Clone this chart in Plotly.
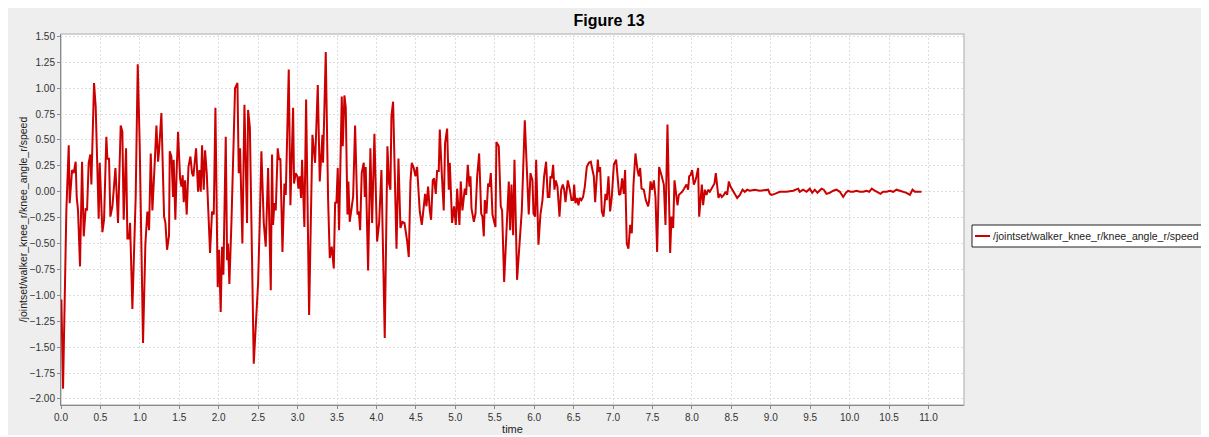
import plotly.graph_objects as go

# ---- data ----
time = [
    0.005, 0.026, 0.068, 0.098, 0.110, 0.140, 0.161, 0.186, 0.199, 0.216,
    0.241, 0.267, 0.288, 0.313, 0.330, 0.351, 0.372, 0.385, 0.419, 0.440,
    0.478, 0.491, 0.525, 0.546, 0.575, 0.588, 0.609, 0.626, 0.652, 0.690,
    0.723, 0.757, 0.778, 0.795, 0.825, 0.842, 0.863, 0.876, 0.905, 0.935,
    0.947, 0.973, 0.998, 1.040, 1.070, 1.095, 1.117, 1.138, 1.159, 1.189,
    1.210, 1.231, 1.243, 1.273, 1.307, 1.324, 1.345, 1.370, 1.379, 1.400,
    1.421, 1.429, 1.450, 1.467, 1.484, 1.510, 1.527, 1.543, 1.556, 1.573,
    1.594, 1.616, 1.641, 1.662, 1.679, 1.696, 1.713, 1.738, 1.755, 1.772,
    1.789, 1.810, 1.827, 1.848, 1.890, 1.915, 1.937, 1.958, 1.987, 2.004,
    2.025, 2.042, 2.059, 2.089, 2.106, 2.118, 2.135, 2.161, 2.182, 2.207,
    2.237, 2.254, 2.271, 2.300, 2.326, 2.359, 2.372, 2.395, 2.444, 2.469,
    2.499, 2.520, 2.541, 2.571, 2.596, 2.626, 2.660, 2.676, 2.689, 2.706,
    2.723, 2.748, 2.765, 2.782, 2.808, 2.833, 2.850, 2.888, 2.909, 2.943,
    2.955, 2.976, 2.997, 3.010, 3.027, 3.044, 3.057, 3.086, 3.108, 3.146,
    3.188, 3.222, 3.256, 3.281, 3.315, 3.323, 3.357, 3.387, 3.408, 3.433,
    3.459, 3.476, 3.492, 3.509, 3.526, 3.560, 3.573, 3.594, 3.611, 3.632,
    3.644, 3.661, 3.687, 3.704, 3.729, 3.759, 3.776, 3.793, 3.813, 3.839,
    3.852, 3.864, 3.894, 3.923, 3.945, 3.974, 4.008, 4.034, 4.063, 4.105,
    4.139, 4.160, 4.177, 4.190, 4.211, 4.254, 4.279, 4.304, 4.329, 4.355,
    4.388, 4.410, 4.431, 4.448, 4.473, 4.494, 4.515, 4.549, 4.575, 4.596,
    4.617, 4.634, 4.655, 4.676, 4.693, 4.714, 4.731, 4.752, 4.769, 4.790,
    4.803, 4.828, 4.853, 4.870, 4.896, 4.917, 4.930, 4.959, 4.984, 5.006,
    5.023, 5.052, 5.069, 5.090, 5.120, 5.137, 5.158, 5.179, 5.192, 5.205,
    5.235, 5.256, 5.277, 5.302, 5.328, 5.344, 5.361, 5.374, 5.395, 5.416,
    5.433, 5.450, 5.471, 5.492, 5.509, 5.521, 5.551, 5.576, 5.593, 5.619,
    5.657, 5.678, 5.695, 5.712, 5.733, 5.750, 5.783, 5.821, 5.843, 5.881,
    5.915, 5.931, 5.953, 5.978, 5.991, 6.012, 6.025, 6.054, 6.079, 6.105,
    6.126, 6.151, 6.172, 6.193, 6.206, 6.223, 6.240, 6.257, 6.274, 6.295,
    6.321, 6.342, 6.363, 6.380, 6.397, 6.426, 6.452, 6.473, 6.494, 6.507,
    6.523, 6.545, 6.561, 6.578, 6.599, 6.620, 6.642, 6.667, 6.693, 6.718,
    6.739, 6.756, 6.773, 6.790, 6.807, 6.820, 6.836, 6.858, 6.879, 6.904,
    6.921, 6.942, 6.963, 6.984, 7.010, 7.039, 7.060, 7.077, 7.094, 7.115,
    7.136, 7.153, 7.174, 7.195, 7.217, 7.238, 7.259, 7.284, 7.310, 7.327,
    7.344, 7.361, 7.390, 7.415, 7.445, 7.458, 7.475, 7.496, 7.517, 7.538,
    7.559, 7.584, 7.614, 7.644, 7.665, 7.690, 7.707, 7.724, 7.741, 7.762,
    7.779, 7.796, 7.817, 7.834, 7.851, 7.876, 7.901, 7.931, 7.952, 7.965,
    7.982, 8.003, 8.024, 8.041, 8.058, 8.079, 8.092, 8.109, 8.126, 8.142,
    8.164, 8.185, 8.206, 8.227, 8.248, 8.269, 8.286, 8.303, 8.320, 8.337,
    8.358, 8.379, 8.405, 8.426, 8.447, 8.468, 8.489, 8.515, 8.544, 8.574,
    8.608, 8.642, 8.671, 8.701, 8.734, 8.798, 8.861, 8.925, 8.967, 8.988,
    9.009, 9.051, 9.115, 9.199, 9.284, 9.347, 9.368, 9.410, 9.453, 9.495,
    9.525, 9.558, 9.592, 9.643, 9.672, 9.706, 9.748, 9.791, 9.833, 9.876,
    9.918, 9.952, 9.981, 10.010, 10.045, 10.087, 10.129, 10.172, 10.214, 10.248,
    10.281, 10.319, 10.362, 10.391, 10.425, 10.468, 10.510, 10.552, 10.594, 10.637,
    10.679, 10.721, 10.764, 10.797, 10.827, 10.870, 10.911,
]

speed = [
    -1.04, -1.90, -0.18, 0.45, -0.11, 0.21, 0.18, 0.29, -0.05, -0.18,
    -0.72, 0.29, -0.43, -0.16, -0.18, 0.28, 0.36, 0.07, 1.05, 0.82,
    -0.26, 0.28, -0.39, -0.27, 0.53, 0.32, 0.32, -0.24, -0.14, 0.23,
    -0.30, 0.64, 0.58, -0.27, 0.42, -0.45, -0.45, -0.30, -1.13, -0.30,
    -0.05, 1.23, 0.45, -1.46, -0.50, -0.19, -0.37, 0.37, -0.18, 0.29,
    0.64, 0.29, 0.39, 0.76, -0.24, -0.30, -0.56, -0.42, 0.39, 0.34,
    -0.05, 0.31, -0.27, 0.21, 0.58, 0.13, 0.05, 0.16, -0.10, 0.11,
    -0.22, 0.24, 0.34, 0.18, 0.15, 0.29, 0.42, 0.00, 0.21, 0.00,
    0.45, 0.02, 0.40, 0.18, -0.59, -0.19, -0.22, 0.81, -0.92, -0.56,
    -1.16, -0.53, -0.80, 0.53, -0.66, -0.50, -0.89, -0.30, 0.21, 1.00,
    1.05, 0.18, 0.42, -0.50, 0.84, -0.30, 0.79, 0.62, -1.66, -1.27,
    -0.88, -0.30, 0.39, -0.30, -0.53, 0.23, -0.95, 0.36, -0.32, -0.11,
    -0.18, 0.42, 0.31, 0.32, -0.58, 0.08, -0.03, 1.18, -0.13, 0.81,
    0.08, 0.18, 0.15, 0.03, 0.15, -0.06, 0.31, -0.34, 0.89, -1.19,
    0.55, 0.28, 1.03, 0.10, 0.55, 0.28, 1.35, -0.08, -0.64, -0.53,
    -0.74, -0.10, -0.11, 0.23, -0.37, 0.92, 0.44, 0.93, 0.81, -0.22,
    0.10, -0.29, -0.11, -0.05, 0.64, -0.22, -0.19, -0.37, 0.18, 0.28,
    -0.05, 0.24, -0.76, 0.42, -0.30, 0.56, -0.48, -0.30, 0.21, -1.41,
    0.44, 0.08, 0.02, 0.73, 0.87, -0.55, 0.32, -0.35, -0.29, -0.30,
    -0.47, -0.63, 0.10, 0.28, 0.23, 0.15, 0.24, -0.19, -0.32, -0.18,
    -0.02, -0.14, 0.05, -0.18, -0.27, 0.11, 0.13, -0.02, 0.20, 0.20,
    0.60, 0.18, -0.18, 0.47, 0.61, 0.02, 0.28, -0.30, -0.14, -0.32,
    0.03, -0.32, 0.10, -0.18, 0.03, -0.03, 0.26, 0.05, 0.15, -0.16,
    -0.29, -0.21, 0.15, 0.37, -0.21, -0.24, -0.43, -0.08, -0.21, 0.08,
    0.05, 0.18, -0.22, -0.29, -0.34, 0.48, 0.44, -0.14, -0.18, -0.87,
    -0.18, 0.10, -0.37, 0.07, -0.42, 0.31, -0.85, -0.47, -0.18, 0.69,
    0.02, -0.22, 0.18, 0.11, -0.21, -0.24, 0.31, -0.51, -0.22, -0.08,
    0.15, 0.29, -0.05, -0.05, 0.15, 0.13, 0.26, 0.02, 0.11, 0.05,
    -0.24, 0.02, 0.07, 0.02, -0.10, 0.11, 0.02, -0.08, -0.08, 0.07,
    -0.11, -0.06, -0.13, -0.06, -0.08, -0.05, 0.05, 0.24, 0.28, 0.29,
    0.21, 0.15, -0.10, 0.18, 0.31, 0.19, 0.24, -0.19, -0.24, -0.02,
    -0.08, 0.15, -0.19, -0.05, 0.26, 0.31, 0.16, -0.03, -0.02, 0.13,
    -0.02, 0.21, -0.50, -0.55, -0.32, -0.40, 0.07, 0.37, 0.21, 0.15,
    0.23, 0.03, 0.02, -0.08, -0.14, -0.08, 0.10, 0.02, 0.11, -0.05,
    -0.58, 0.24, 0.16, 0.07, -0.32, 0.65, 0.03, -0.59, -0.24, -0.35,
    0.11, 0.02, -0.13, -0.03, -0.02, 0.00, 0.03, 0.07, 0.02, 0.15,
    0.16, 0.21, 0.07, 0.10, 0.15, 0.23, -0.24, -0.08, 0.07, -0.13,
    0.02, -0.03, 0.02, 0.00, 0.03, 0.05, 0.08, 0.18, 0.02, -0.06,
    -0.02, -0.05, -0.03, 0.00, -0.03, 0.10, 0.05, 0.02, -0.02, -0.06,
    -0.03, 0.02, 0.00, 0.02, 0.01, 0.02, 0.01, 0.02, 0.02, -0.02,
    -0.03, -0.02, 0.00, 0.00, 0.01, 0.03, 0.00, 0.02, 0.00, 0.03,
    -0.01, 0.02, -0.01, 0.03, 0.02, -0.02, -0.01, 0.01, 0.02, 0.00,
    -0.05, -0.01, 0.01, 0.00, 0.00, 0.01, 0.00, 0.00, 0.01, 0.00,
    0.03, 0.01, -0.01, -0.02, 0.00, 0.00, 0.01, 0.00, 0.02, 0.01,
    0.00, -0.01, -0.03, 0.02, 0.00, 0.00, 0.00,
]

series_name = "/jointset/walker_knee_r/knee_angle_r/speed"
title_text = "Figure 13"
x_title = "time"
y_title = "/jointset/walker_knee_r/knee_angle_r/speed"

FONT = "Liberation Sans, Arial, sans-serif"
RED = "#cc0000"

fig = go.Figure()
fig.add_trace(go.Scatter(x=time, y=speed, mode="lines", name=series_name,
                         line=dict(color=RED, width=2), showlegend=False))

# figure sits inside the page's default 8px body margin
W, H = 1201, 427
L, R, T, B = 53, 245, 26, 30
pw, ph = W - L - R, H - T - B

def px_x(p):
    return (p - L) / pw

def px_y(p):
    return (H - B - p) / ph

shapes = [
    # white plot area with light outline
    dict(type="rect", xref="paper", yref="paper", layer="below",
         x0=0, x1=1, y0=0, y1=1, fillcolor="white",
         line=dict(color="#c4c4c4", width=1.5)),
    # legend box
    dict(type="rect", xref="paper", yref="paper",
         x0=px_x(964), x1=px_x(1212), y0=px_y(239), y1=px_y(217),
         fillcolor="white", line=dict(color="#222222", width=1)),
    dict(type="line", xref="paper", yref="paper",
         x0=px_x(967), x1=px_x(982), y0=px_y(228), y1=px_y(228),
         line=dict(color=RED, width=2)),
]

annotations = [
    dict(text=series_name, xref="paper", yref="paper", x=px_x(983), y=px_y(228),
         xanchor="left", yanchor="middle", showarrow=False,
         font=dict(family=FONT, size=10.5, color="#222222")),
]

fig.update_layout(
    width=W, height=H,
    margin=dict(l=L, r=R, t=T, b=B, autoexpand=False),
    paper_bgcolor="#eeeeee",
    plot_bgcolor="rgba(0,0,0,0)",
    title=dict(text="<b>" + title_text + "</b>", x=px_x(601), xref="paper",
               xanchor="center", y=1 - 12 / H, yanchor="middle",
               font=dict(family=FONT, size=16, color="#000000")),
    shapes=shapes,
    annotations=annotations,
    font=dict(family=FONT, size=10, color="#333333"),
)

fig.update_xaxes(
    range=[0, 11.45], dtick=0.5, tick0=0, tickformat=".1f",
    showgrid=True, gridcolor="#dedede", griddash="2px,2px", gridwidth=1,
    zeroline=False, showline=True, linecolor="#8a8a8a", linewidth=1,
    ticks="outside", ticklen=3, tickcolor="#8a8a8a", automargin=False,
    tickfont=dict(family=FONT, size=10, color="#333333"),
    title=dict(text=x_title, font=dict(family=FONT, size=11, color="#222222"), standoff=4),
)
fig.update_yaxes(
    range=[-2.058, 1.523], dtick=0.25, tick0=0, tickformat=".2f",
    showgrid=True, gridcolor="#dedede", griddash="2px,2px", gridwidth=1,
    zeroline=False, showline=True, linecolor="#8a8a8a", linewidth=1,
    ticks="outside", ticklen=3, tickcolor="#8a8a8a", automargin=False,
    tickfont=dict(family=FONT, size=10, color="#333333"),
    title=dict(text=y_title, font=dict(family=FONT, size=10.5, color="#222222"), standoff=0),
)

fig.write_html("out.html")
